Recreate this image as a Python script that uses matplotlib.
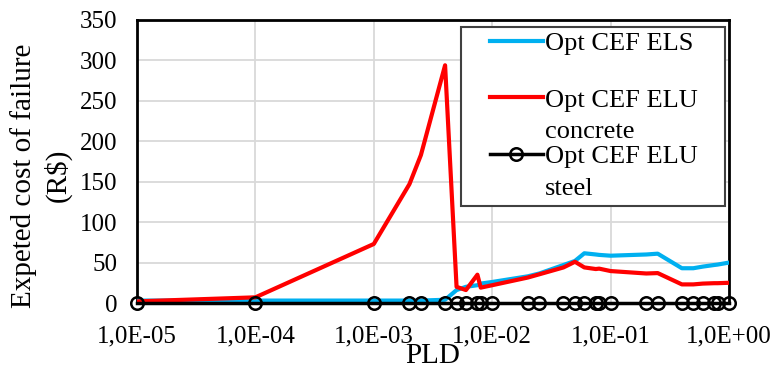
import numpy as np
import matplotlib.pyplot as plt
from matplotlib.ticker import FixedLocator, NullLocator
from matplotlib.legend_handler import HandlerLine2D

plt.rcParams['font.family'] = ['Liberation Serif', 'DejaVu Serif']

pld = [1e-5, 1e-4, 1e-3, 2e-3, 2.5e-3, 4e-3, 5e-3, 6e-3, 7.5e-3, 8e-3, 1e-2,
       2e-2, 2.5e-2, 4e-2, 5e-2, 6e-2, 7.5e-2, 8e-2, 1e-1, 0.2, 0.25, 0.4,
       0.5, 0.6, 0.75, 0.8, 1.0]
cef_els = [3, 3, 3, 3, 3, 4, 16, 20, 22, 24, 26, 33, 36.5, 47, 52, 61.5, 60,
           59.5, 58.5, 60, 61, 43, 43, 45, 47, 47.5, 50]
cef_elu_concrete = [2, 7, 73, 147, 183, 294, 20, 16, 35, 19, 22, 31.5, 35.5,
                    44, 51, 44, 42, 42.5, 39.5, 36.5, 37, 23, 23, 24, 24.5,
                    24.5, 25]
cef_elu_steel = [0] * len(pld)

xtick_vals = [1e-5, 1e-4, 1e-3, 1e-2, 1e-1, 1e0]
xtick_labels = ['1,0E-05', '1,0E-04', '1,0E-03', '1,0E-02', '1,0E-01', '1,0E+00']
ytick_vals = list(range(0, 351, 50))


class TopHandler(HandlerLine2D):
    # put the legend line next to the first line of a two-line label
    def create_artists(self, legend, orig_handle, xdescent, ydescent, width,
                       height, fontsize, trans):
        arts = super().create_artists(legend, orig_handle, xdescent, ydescent,
                                      width, height, fontsize, trans)
        for a in arts:
            a.set_ydata(np.asarray(a.get_ydata()) + 0.69 * fontsize)
        return arts


fig = plt.figure(figsize=(7.72, 3.69), dpi=100)
ax = fig.add_axes([137 / 772, 1 - 303 / 369, (729 - 137) / 772, (303 - 20) / 369])

ax.plot(pld, cef_els, color='#00B0F0', lw=3, label='Opt CEF ELS\n ', zorder=3)
ax.plot(pld, cef_elu_concrete, color='#FF0000', lw=3,
        label='Opt CEF ELU\nconcrete', zorder=3)
ax.plot(pld, cef_elu_steel, color='black', lw=2.5, marker='o', ms=9,
        mfc='none', mec='black', mew=1.8, label='Opt CEF ELU\nsteel',
        zorder=4, clip_on=False)

ax.set_xscale('log')
ax.set_xlim(1e-5, 1)
ax.set_ylim(0, 350)
ax.xaxis.set_major_locator(FixedLocator(xtick_vals))
ax.xaxis.set_minor_locator(NullLocator())
ax.set_xticklabels(xtick_labels)
ax.set_yticks(ytick_vals)
ax.tick_params(length=0, labelsize=18)
ax.tick_params(axis='x', pad=16)
ax.tick_params(axis='y', pad=14)
ax.grid(True, color='#D9D9D9', lw=1.3)
ax.set_axisbelow(True)
for s in ax.spines.values():
    s.set_color('black')
    s.set_linewidth(2)

ax.set_xlabel('PLD', fontsize=21, labelpad=-3)
ax.set_ylabel('Expeted cost of failure\n(R\\$)', fontsize=21, linespacing=1.3)
ax.yaxis.set_label_coords(-0.11, 0.45)

leg = ax.legend(loc='upper left', bbox_to_anchor=(0.547, 0.975, 0.446, 0),
                mode='expand', borderaxespad=0, fontsize=19, fancybox=False,
                framealpha=1, edgecolor='#404040', handlelength=2.88,
                handletextpad=0.08, labelspacing=0.13, borderpad=0.22,
                handler_map={plt.Line2D: TopHandler(xpad=0.89)})
leg.get_frame().set_linewidth(1.5)
for t in leg.get_texts():
    t.set_linespacing(1.55)

fig.savefig('out.png', dpi=100)
